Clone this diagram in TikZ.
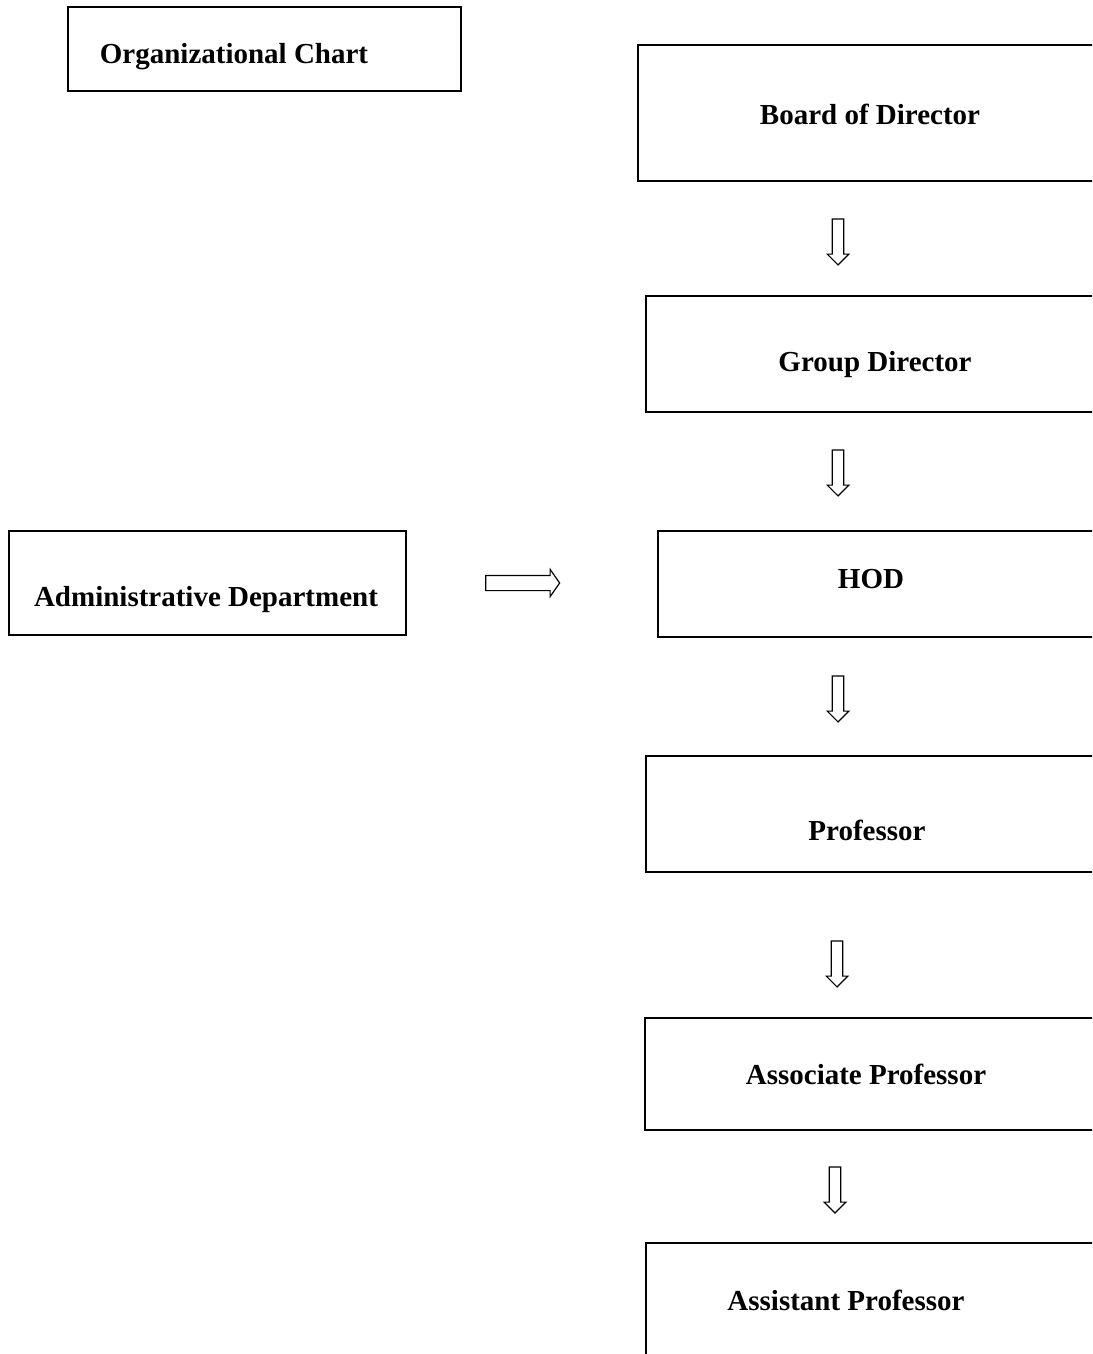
\documentclass[tikz,border=0pt]{standalone}
\usepackage{fontspec}
\setmainfont{Liberation Serif}
\usetikzlibrary{shapes.arrows,fit}

\begin{document}
\begin{tikzpicture}[x=0.5pt,y=-0.5pt,
  chartbox/.style={draw,line width=0.9pt,inner sep=0pt},
  chartlabel/.style={font=\fontsize{14.5}{17}\selectfont\bfseries,inner sep=0pt},
  hollowarrow/.style={single arrow,draw,line width=0.6pt,inner sep=0pt,
    text height=2.6pt,text depth=2.6pt,single arrow head extend=2.5pt,
    minimum height=23pt},
  downarrow/.style={hollowarrow,rotate=-90}]
\clip (0,0) rectangle (1092,1354);
\fill[white] (0,0) rectangle (1092,1354);
% Title
\node[chartbox,line width=1.2pt,fit={(68,7) (461,91)}] (orgbox) {};
\node[chartlabel] (orgtxt) at (234,57) {Organizational Chart};
%
% Chain of posts
\node[chartbox,line width=1.1pt,fit={(638,45) (1100,181)}] (board) {};
\node[chartlabel] (boardtxt) at (870,114) {Board of Director};
\node[chartbox,fit={(646,296) (1100,412)}] (group) {};
\node[chartlabel] (grouptxt) at (875,365) {Group Director};
\node[chartbox,fit={(658,531) (1100,637)}] (hod) {};
\node[chartlabel] (hodtxt) at (871,579) {HOD};
\node[chartbox,fit={(646,756) (1100,872)}] (prof) {};
\node[chartlabel] (proftxt) at (867,830) {Professor};
\node[chartbox,fit={(645,1018) (1100,1130)}] (assoc) {};
\node[chartlabel] (assoctxt) at (866,1074) {Associate Professor};
\node[chartbox,fit={(646,1243) (1100,1370)}] (assist) {};
\node[chartlabel] (assisttxt) at (846,1300) {Assistant Professor};
%
% Side department
\node[chartbox,fit={(9,531) (406,635)}] (admin) {};
\node[chartlabel] (admintxt) at (206,600) {Administrative Department};
%
% Hollow arrows
\node[downarrow] (arrA) at (838,239) {};
\node[downarrow] (arrB) at (838,470) {};
\node[downarrow] (arrC) at (838,696) {};
\node[downarrow] (arrD) at (837,961) {};
\node[downarrow] (arrE) at (835,1187) {};
\node[hollowarrow,text height=3.5pt,text depth=3.5pt,
  single arrow head extend=3pt,single arrow tip angle=110,
  minimum height=37pt] (arrF) at (520,583) {};
\end{tikzpicture}
\end{document}
